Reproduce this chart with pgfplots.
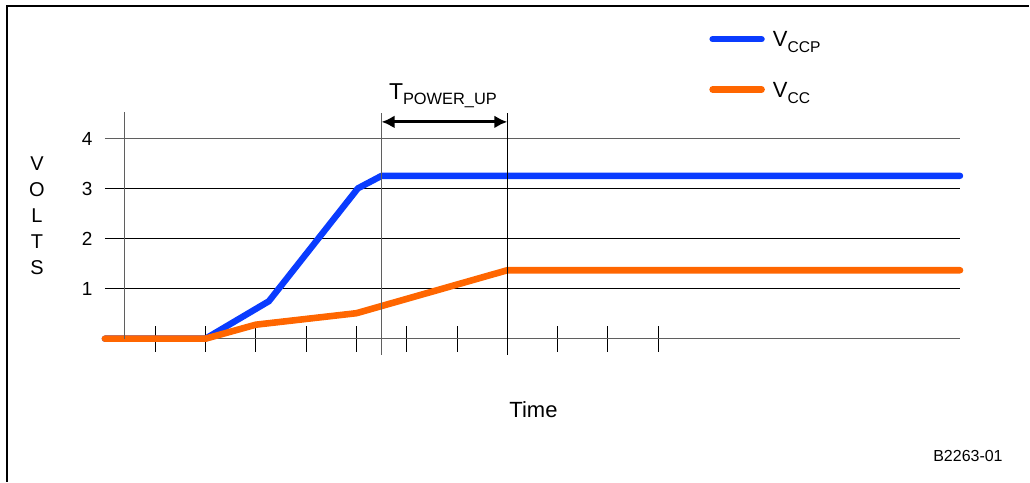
\documentclass[border=0pt]{standalone}
\usepackage{fontspec}
\setmainfont{Liberation Sans}
\usepackage{pgfplots}
\pgfplotsset{compat=1.18}
\usetikzlibrary{arrows.meta}
\definecolor{vblue}{RGB}{10,60,255}
\definecolor{vorange}{RGB}{255,102,0}
\definecolor{lgray}{RGB}{95,95,95}

\begin{document}
\begin{tikzpicture}
\begin{axis}[
  x=25.175pt, y=25pt,
  xmin=0, xmax=17, ymin=0, ymax=4,
  clip=false,
  axis line style={draw=none},
  xtick={1,2,3,4,5,6,7,9,10,11},
  xticklabels={},
  xtick pos=lower,
  xtick align=center,
  major tick length=13pt,
  xtick style={black, line width=0.5pt},
  ytick={1,2,3},
  ytick pos=left,
  ytick style={draw=none},
  extra y ticks={0,4},
  extra y tick labels={{},4},
  extra y tick style={grid=major, grid style={lgray, line width=0.5pt}, major tick length=0pt},
  ymajorgrids,
  grid style={black, line width=0.5pt},
  /pgf/number format/assume math mode=true,
  yticklabel style={font=\fontsize{9.5}{11}\selectfont, anchor=east, inner sep=0pt, xshift=-6pt},
  xlabel={Time},
  xlabel style={at={(axis description cs:0.5012,-0.3965)}, anchor=base, font=\fontsize{11}{13}\selectfont, inner sep=0pt},
  ylabel={V\\O\\L\\T\\S},
  ylabel style={at={(axis description cs:-0.0794,0.6175)}, anchor=center, rotate=-90, align=center, font=\fontsize{10}{13}\selectfont, inner sep=0pt},
  legend style={at={(axis cs:12.016,6.206)}, anchor=north west, draw=none, fill=none, inner sep=0pt, outer sep=0pt, row sep=14.7pt, column sep=4pt, nodes={inner sep=0pt, outer sep=0pt}, font=\fontsize{11}{13}\selectfont},
  legend cell align=left,
  legend image code/.code={\draw[#1] (0pt,0pt) -- (24.5pt,0pt);},
]
\addplot[vblue, line width=3.2pt, line cap=round, line join=round]
  coordinates {(0,0) (2,0) (3.26,0.75) (5.03,3.01) (5.5,3.26) (17,3.26)};
\addlegendentry{\raisebox{0pt}[9pt][1.3pt]{V\raisebox{-3pt}{\fontsize{7.8}{9}\selectfont CCP}}}
\addplot[vorange, line width=3.3pt, line cap=round, line join=round]
  coordinates {(0,0) (2,0) (3.0,0.28) (5.0,0.51) (8,1.37) (17,1.37)};
\addlegendentry{\raisebox{0pt}[9pt][1.3pt]{V\raisebox{-3pt}{\fontsize{7.8}{9}\selectfont CC}}}

\draw[lgray, line width=0.5pt] (axis cs:0.397,0) -- (axis cs:0.397,4.54);
\draw[lgray, line width=0.5pt] (axis cs:5.5,-0.32) -- (axis cs:5.5,4.52);
\draw[black, line width=0.5pt] (axis cs:8,-0.32) -- (axis cs:8,4.52);
\draw[{Latex[length=6.5pt,width=6.5pt]}-{Latex[length=6.5pt,width=6.5pt]}, line width=1.5pt]
  (axis cs:5.5,4.34) -- (axis cs:8,4.34);
\node[anchor=base, inner sep=0pt, font=\fontsize{11.5}{13}\selectfont] at (axis cs:6.72,4.79)
  {T\raisebox{-2.5pt}{\fontsize{8.2}{9}\selectfont POWER\_UP}};
\coordinate (O) at (axis cs:0,0);
\end{axis}
\begin{scope}[shift={(O)}, x=0.5pt, y=-0.5pt, shift={(-105,-339)}]
  \draw[line width=1pt] (6.8,482) -- (6.8,6) -- (1030,6);
  \node[anchor=base east, inner sep=0pt, font=\fontsize{8}{10}\selectfont] at (1004,461.7) {B2263-01};
  \path (0,0) rectangle (1030,482);
\end{scope}
\end{tikzpicture}
\end{document}
